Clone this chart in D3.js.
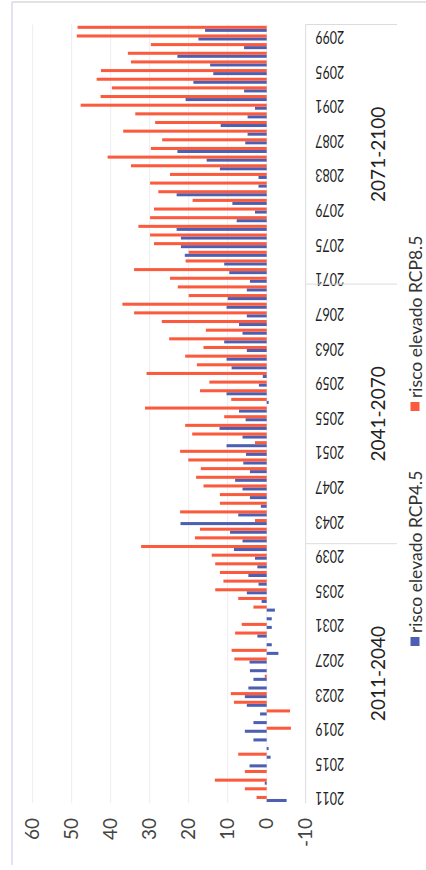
<!DOCTYPE html>
<html>
<head>
<meta charset="utf-8">
<script src="https://cdn.jsdelivr.net/npm/d3@7"></script>
<style>
  html, body { margin: 0; padding: 0; background: #ffffff; }
  svg { display: block; font-family: Lato, "Open Sans", "Liberation Sans", sans-serif; }
</style>
</head>
<body>
<svg id="chart" width="426" height="870"></svg>
<script>
// Years 2011–2100, grouped into three 30-year periods
const years = d3.range(2011, 2101);
const yearTicks = years.filter((d, i) => i % 4 === 0);
const periods = [
  { label: "2011-2040", from: 2011, to: 2040 },
  { label: "2041-2070", from: 2041, to: 2070 },
  { label: "2071-2100", from: 2071, to: 2100 }
];
const seriesNames = ["risco elevado RCP4.5", "risco elevado RCP8.5"];
const valueTicks = [-10, 0, 10, 20, 30, 40, 50, 60];

// risco elevado RCP4.5, one value per year 2011..2100
const rcp45 = [
  -5.1, 0, 0.5, 0, 4.4, -1, -0.5, 3.4, 5.6, 3.4,
  1.7, 5.1, 5.6, 4.7, 3.4, 4.3, 4.4, -3, -1.3, 2.4,
  -1.3, -1.3, -2.1, 1.3, 5.1, 2.1, 4.7, 2.4, 3, 8.4,
  6.2, 9.4, 22.1, 7.3, 1.5, 4.3, 6.2, 8.1, 4.3, 6,
  5.3, 10.3, 6.2, 12.1, 5.4, 7.1, -0.5, 10.3, 2, 1,
  9, 10.3, 5.1, 10.9, 6.2, 7.1, 5.1, 10.3, 10, 5.1,
  4.3, 9.6, 10.9, 21, 22, 22, 23.1, 7.7, 3, 8.8,
  23.1, 2.1, 2.1, 12, 15.4, 22.9, 5.5, 4.9, 11.8, 4.9,
  3, 20.8, 5.8, 18.8, 13.7, 14.5, 22.9, 5.8, 17.5, 15.8
];

// risco elevado RCP8.5, one value per year 2011..2100
const rcp85 = [
  2.6, 5.6, 13.3, 5.6, 0, 7.3, 0, 0, -6.2, 0,
  -6, 8.4, 9.2, 0, 0.5, 0, 8.3, 9, 0, 8.1,
  6.4, 0, 3.4, 7.3, 13.2, 11.1, 12, 13.2, 14.1, 32.2,
  18.4, 17.1, 3, 22.2, 12, 12, 16.2, 18.1, 16.9, 20.1,
  22.2, 3, 19.1, 20.9, 10.9, 31.2, 9.1, 17.1, 14.7, 30.8,
  17.9, 20.9, 16.2, 25, 15.6, 26.9, 34, 37, 20, 22.8,
  24.8, 34, 20.8, 20, 28.9, 29.9, 32.9, 29.9, 28.9, 19,
  27.8, 29.9, 24.8, 34.8, 40.8, 29.7, 26.8, 36.8, 28.6, 33.7,
  47.7, 42.6, 39.7, 43.6, 42.5, 34.8, 35.6, 29.7, 48.7, 48.5
];

const colors = { "risco elevado RCP4.5": "#4d5fb2", "risco elevado RCP8.5": "#fb5a3c" };

// The chart is laid out as an ordinary column chart (870 wide, 426 tall)
// and the whole group is turned a quarter turn onto the portrait page.
const svg = d3.select("#chart");
const g = svg.append("g").attr("transform", "translate(0,870) rotate(-90)");

const x = d3.scaleBand().domain(years).range([66.7, 845.5]).paddingInner(0.3).paddingOuter(0.15);
const xs = d3.scaleBand().domain(seriesNames).range([0, x.bandwidth()]);
const y = d3.scaleLinear().domain([-10, 60]).range([305.7, 32.7]);

const step = x.step();
const plotLeft = x.range()[0], plotRight = x.range()[1];

// chart frame lines
g.append("line").attr("x1", 5).attr("x2", 868).attr("y1", 12).attr("y2", 12)
  .attr("stroke", "#cfd0f2").attr("stroke-width", 1.2);
g.append("line").attr("x1", 868).attr("x2", 868).attr("y1", 12).attr("y2", 426)
  .attr("stroke", "#d8d8d8").attr("stroke-width", 1.5);

// horizontal gridlines
g.append("g").selectAll("line").data(valueTicks).join("line")
  .attr("x1", plotLeft).attr("x2", plotRight)
  .attr("y1", d => y(d)).attr("y2", d => y(d))
  .attr("stroke", d => d === -10 ? "#dcdcdc" : "#ececf3")
  .attr("stroke-width", 1);

// value axis
const yAxis = g.append("g").attr("transform", "translate(52,0)")
  .call(d3.axisLeft(y).tickValues(valueTicks).tickSize(0).tickPadding(0)
    .tickFormat(d => String(d)));
yAxis.select(".domain").remove();
yAxis.selectAll("text").attr("font-size", 19).attr("fill", "#444")
  .attr("font-family", "Lato, 'Open Sans', sans-serif");

// bars
const rows = years.map((yr, i) => ({ year: yr, values: [rcp45[i], rcp85[i]] }));
g.append("g").selectAll("g").data(rows).join("g")
  .attr("transform", d => `translate(${x(d.year)},0)`)
  .selectAll("rect")
  .data(d => seriesNames.map((s, j) => ({ s, v: d.values[j] })))
  .join("rect")
  .attr("x", d => xs(d.s))
  .attr("width", xs.bandwidth())
  .attr("y", d => y(Math.max(0, d.v)))
  .attr("height", d => Math.abs(y(d.v) - y(0)))
  .attr("fill", d => colors[d.s]);

// year labels (vertical in the column chart)
const xAxis = g.append("g").attr("transform", "translate(0,305.7)")
  .call(d3.axisBottom(x).tickValues(yearTicks).tickSize(0));
xAxis.select(".domain").remove();
xAxis.selectAll("text")
  .attr("y", 0).attr("dy", null).attr("x", 0)
  .attr("transform", "translate(0,9.5) rotate(-90)")
  .attr("text-anchor", "end")
  .attr("dominant-baseline", "central")
  .attr("font-size", 17)
  .attr("textLength", 29).attr("lengthAdjust", "spacingAndGlyphs")
  .attr("fill", "#222")
  .attr("font-family", "Lato, 'Open Sans', sans-serif");

// period separators (between periods and at the far end) and period labels
const bounds = [x(2041) - step * 0.15, x(2071) - step * 0.15, plotRight];
g.append("g").selectAll("line").data(bounds).join("line")
  .attr("x1", d => d).attr("x2", d => d).attr("y1", 305.7).attr("y2", 397)
  .attr("stroke", "#dcdcdc").attr("stroke-width", 1);

g.append("g").selectAll("text").data(periods).join("text")
  .attr("x", d => (x(d.from) + x(d.to) + x.bandwidth()) / 2)
  .attr("y", 377)
  .attr("text-anchor", "middle")
  .attr("dominant-baseline", "central")
  .attr("font-size", 19)
  .attr("fill", "#222")
  .text(d => d.label);

// legend
const legendX = [224, 459];
const legend = g.append("g").selectAll("g").data(seriesNames).join("g")
  .attr("transform", (d, i) => `translate(${legendX[i]},415)`);
legend.append("rect").attr("x", 0).attr("y", -4.5).attr("width", 9).attr("height", 9)
  .attr("fill", d => colors[d]);
legend.append("text").attr("x", 13).attr("y", 0)
  .attr("dominant-baseline", "central")
  .attr("font-size", 17.5).attr("fill", "#333")
  .text(d => d);
</script>
</body>
</html>
